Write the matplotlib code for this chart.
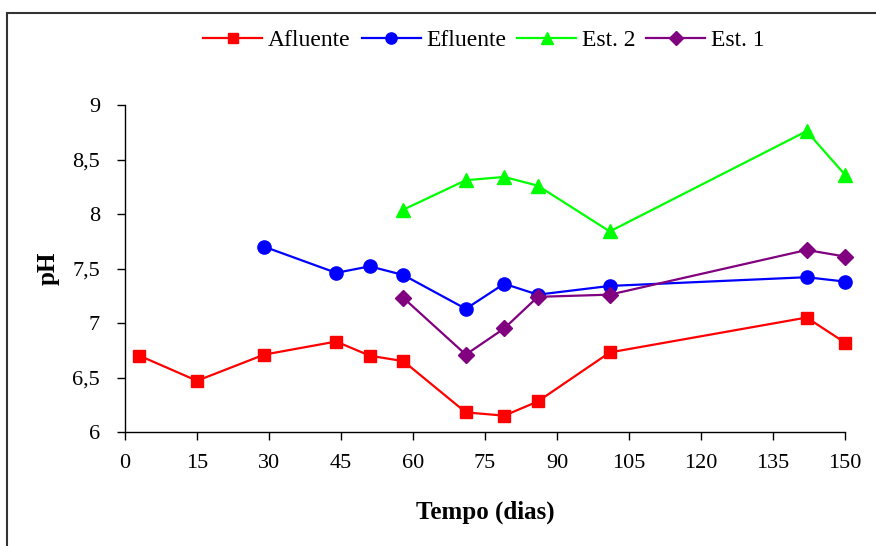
import matplotlib.pyplot as plt
from matplotlib.patches import Rectangle
from matplotlib.ticker import FuncFormatter, MultipleLocator

plt.rcParams["font.family"] = ["Liberation Serif", "DejaVu Serif"]

# days of sampling
dias_afl = [3, 15, 29, 44, 51, 58, 71, 79, 86, 101, 142, 150]
dias_efl = [29, 44, 51, 58, 71, 79, 86, 101, 142, 150]
dias_est = [58, 71, 79, 86, 101, 142, 150]

ph_afluente = [6.70, 6.47, 6.71, 6.83, 6.70, 6.65, 6.18, 6.15, 6.28, 6.73, 7.05, 6.82]
ph_efluente = [7.70, 7.46, 7.52, 7.44, 7.13, 7.36, 7.26, 7.34, 7.42, 7.38]
ph_est2 = [8.04, 8.31, 8.34, 8.26, 7.84, 8.76, 8.36]
ph_est1 = [7.23, 6.71, 6.95, 7.24, 7.26, 7.67, 7.61]

fig = plt.figure(figsize=(8.76, 5.46), dpi=100)
ax = fig.add_axes([125 / 876, 1 - 432 / 546, 720 / 876, 327 / 546])

series = [
    (dias_afl, ph_afluente, "Afluente", "#ff0000", "s", 9),
    (dias_efl, ph_efluente, "Efluente", "#0000ff", "o", 9.5),
    (dias_est, ph_est2, "Est. 2", "#00ff00", "^", 10),
    (dias_est, ph_est1, "Est. 1", "#800080", "D", 8),
]
for x, y, lbl, col, mk, ms in series:
    ax.plot(x, y, color=col, marker=mk, markersize=ms, linewidth=1.6,
            label=lbl, clip_on=False, zorder=3)

ax.set_xlim(0, 150)
ax.set_ylim(6, 9)
ax.xaxis.set_major_locator(MultipleLocator(15))
ax.yaxis.set_major_locator(MultipleLocator(0.5))
ax.yaxis.set_major_formatter(
    FuncFormatter(lambda v, p: f"{v:g}".replace(".", ",")))

for s in ["top", "right"]:
    ax.spines[s].set_visible(False)
for s in ["left", "bottom"]:
    ax.spines[s].set_linewidth(1.0)
ax.tick_params(axis="both", direction="out", length=6, width=1.0,
               labelsize=16)
ax.tick_params(axis="y", pad=12)
ax.tick_params(axis="x", pad=10)

fig.text(485 / 876, 1 - 512 / 546, "Tempo (dias)", fontsize=18,
         fontweight="bold", ha="center", va="center")
fig.text(48 / 876, 1 - 268 / 546, "pH", fontsize=18, fontweight="bold",
         rotation=90, ha="center", va="center")

leg = fig.legend(loc="center", bbox_to_anchor=(484 / 876, 1 - 40 / 546),
                 ncol=4, frameon=False, fontsize=17, handlelength=2.5,
                 handletextpad=0.25, columnspacing=0.45, borderpad=0,
                 markerscale=0.85)

# chart area border (clipped by the image edges on the right and bottom)
fig.patches.append(Rectangle((7 / 876, -0.05), 1.2, 1 - 13 / 546 + 0.05,
                             transform=fig.transFigure, fill=False,
                             edgecolor="#333333", linewidth=1.5))

fig.savefig("out.png", dpi=100)
